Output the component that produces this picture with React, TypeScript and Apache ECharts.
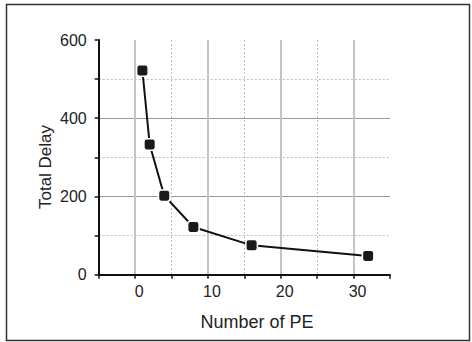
import React, { useEffect, useRef } from "react";
import * as echarts from "echarts";

const peCounts = [1, 2, 4, 8, 16, 32];
const totalDelay = [522, 333, 202, 122, 75, 48];
const xAxisTitle = "Number of PE";
const yAxisTitle = "Total Delay";
const xLabelValues = [0, 10, 20, 30];
const yLabelValues = [0, 200, 400, 600];

const FONT = "'Liberation Sans', Arial, sans-serif";

export default function App() {
  const ref = useRef<HTMLDivElement>(null);
  useEffect(() => {
    if (!ref.current) return;
    const chart = echarts.init(ref.current, undefined, { renderer: "svg" });
    const t = "rgba(0,0,0,0)";
    const solidX = "#c4c4c4";
    const solidY = "#9a9a9a";
    const dot = "#bdbdbd";
    chart.setOption({
      animation: false,
      backgroundColor: "#ffffff",
      grid: { left: 98.7, right: 82, top: 40, bottom: 67.3, containLabel: false },
      xAxis: [
        {
          type: "value",
          min: -5,
          max: 35,
          interval: 5,
          axisLine: { show: true, onZero: false, lineStyle: { color: "#111", width: 2 } },
          axisTick: { show: true, length: 4, lineStyle: { color: "#111", width: 1.5 } },
          axisLabel: {
            color: "#222",
            fontSize: 16,
            fontFamily: FONT,
            margin: 9,
            padding: [0, 0, 0, 8],
            formatter: (v: number) => (xLabelValues.includes(v) ? String(v) : ""),
          },
          splitLine: {
            show: true,
            lineStyle: { color: [t, solidX, t, solidX, t, solidX, t, solidX, t], width: 2, type: "solid" },
          },
        },
        {
          type: "value",
          min: -5,
          max: 35,
          interval: 5,
          axisLine: { show: false },
          axisTick: { show: false },
          axisLabel: { show: false },
          splitLine: {
            show: true,
            lineStyle: { color: [t, t, dot, t, dot, t, dot, t, t], width: 1, type: [2, 2] },
          },
        },
      ],
      yAxis: [
        {
          type: "value",
          min: 0,
          max: 600,
          interval: 100,
          axisLine: { show: true, onZero: false, lineStyle: { color: "#111", width: 2 } },
          axisTick: { show: true, length: 4, lineStyle: { color: "#111", width: 1.5 } },
          axisLabel: {
            color: "#222",
            fontSize: 16,
            fontFamily: FONT,
            margin: 12,
            formatter: (v: number) => (yLabelValues.includes(v) ? String(v) : ""),
          },
          splitLine: {
            show: true,
            lineStyle: { color: [t, t, solidY, t, solidY, t, t], width: 1, type: "solid" },
          },
        },
        {
          type: "value",
          min: 0,
          max: 600,
          interval: 100,
          axisLine: { show: false },
          axisTick: { show: false },
          axisLabel: { show: false },
          splitLine: {
            show: true,
            lineStyle: { color: [t, dot, t, dot, t, dot, t], width: 1, type: [2, 2] },
          },
        },
      ],
      graphic: [
        {
          type: "rect",
          shape: { x: 6.5, y: 4.5, width: 463, height: 336 },
          style: { fill: "none", stroke: "#333", lineWidth: 1.5 },
          silent: true,
          z: -1,
        },
        {
          type: "text",
          x: 257,
          y: 322,
          style: {
            text: xAxisTitle,
            fill: "#222",
            font: `18px ${FONT}`,
            align: "center",
            verticalAlign: "middle",
          },
        },
        {
          type: "text",
          x: 45,
          y: 167,
          rotation: Math.PI / 2,
          style: {
            text: yAxisTitle,
            fill: "#222",
            font: `17px ${FONT}`,
            align: "center",
            verticalAlign: "middle",
          },
        },
      ],
      series: [
        {
          type: "line",
          xAxisIndex: 0,
          yAxisIndex: 0,
          data: peCounts.map((x, i) => [x, totalDelay[i]]),
          symbol: "roundRect",
          symbolSize: 11.5,
          lineStyle: { color: "#111", width: 2 },
          itemStyle: { color: "#1a1a1a", borderColor: "#ffffff", borderWidth: 1.5 },
          z: 5,
        },
      ],
    });
    return () => chart.dispose();
  }, []);
  return (
    <div
      ref={ref}
      style={{ position: "absolute", left: 0, top: 0, width: 472, height: 342 }}
    />
  );
}
